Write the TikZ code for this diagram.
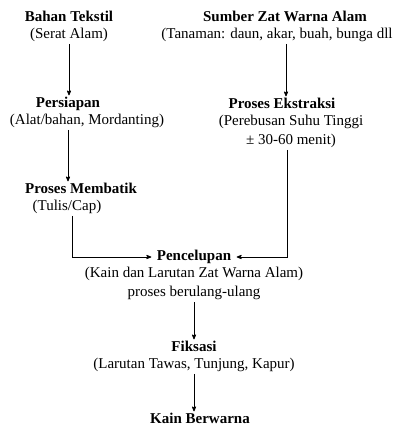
\documentclass[tikz,border=0pt]{standalone}
\usepackage{fontspec}
\setmainfont{Liberation Serif}
\newfontfamily\huruf{Liberation Serif}
\usetikzlibrary{arrows,positioning,calc}

\begin{document}
\begin{tikzpicture}[->,>=stealth',x=1pt,y=-1pt,node distance=0pt,
  thick,judul/.style={font=\huruf\fontsize{15}{16}\selectfont\bfseries,inner sep=1.2pt,text height=10.5pt,text depth=3.5pt},
  ket/.style={font=\huruf\fontsize{15}{16}\selectfont,inner sep=1.2pt,text height=10.5pt,text depth=3.5pt}]
  \useasboundingbox (0,0) rectangle (394,430);

  \node[judul] (bahan) at (69,18) {Bahan Tekstil};
    \node[ket,below=of bahan] (serat) {(Serat Alam)};
  \node[judul] (sumber) at (285,18) {Sumber Zat Warna Alam};
    \node[ket,below=of sumber,xshift=-8pt] (tanaman) {(Tanaman: daun, akar, buah, bunga dll};
  \node[judul] (persiapan) at (68,104) {Persiapan};
    \node[ket,below=of persiapan,xshift=19pt] (alat) {(Alat/bahan, Mordanting)};
  \node[judul] (ekstraksi) at (282,105) {Proses Ekstraksi};
    \node[ket,below=of ekstraksi,xshift=9pt] (rebus) {(Perebusan Suhu Tinggi};
    \node[ket,below=2pt of rebus] (menit) {± 30-60 menit)};
  \node[judul] (membatik) at (81,190) {Proses Membatik};
    \node[ket,below=of membatik,xshift=-14pt] (tulis) {(Tulis/Cap)};
  \node[judul] (celup) at (194,257) {Pencelupan};
    \node[ket,below=of celup] (larutan) {(Kain dan Larutan Zat Warna Alam)};
    \node[ket,below=2pt of larutan] (ulang) {proses berulang-ulang};
  \node[judul] (fiksasi) at (194,348) {Fiksasi};
    \node[ket,below=of fiksasi] (tawas) {(Larutan Tawas, Tunjung, Kapur)};
  \node[judul] (hasil) at (200,420) {Kain Berwarna};

  \draw (serat.south) -- (serat.south |- persiapan.north);
  \draw ([xshift=1pt]sumber.south |- tanaman.south) -- ([xshift=1pt]sumber.south |- ekstraksi.north);
  \draw (persiapan.south |- alat.south) -- (persiapan.south |- membatik.north);
  \draw ([xshift=5pt]tulis.south) |- ([xshift=-4pt]celup.west);
  \draw ([xshift=-4pt]menit.south) |- ([xshift=4pt]celup.east);
  \draw (ulang.south) -- (ulang.south |- fiksasi.north);
  \draw (tawas.south) -- (tawas.south |- hasil.north);
\end{tikzpicture}
\end{document}
